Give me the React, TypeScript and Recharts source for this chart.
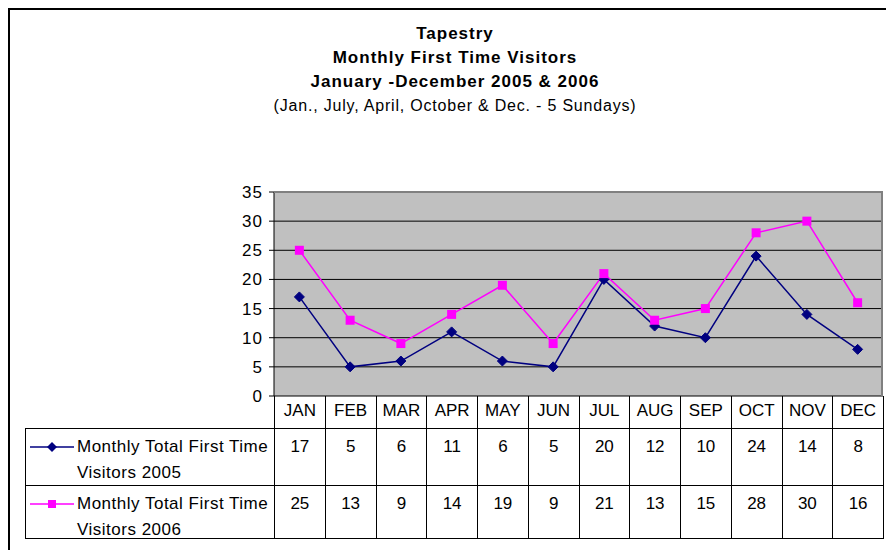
import React from 'react';
import { LineChart, Line, XAxis, YAxis, CartesianGrid } from 'recharts';

const months = ['JAN', 'FEB', 'MAR', 'APR', 'MAY', 'JUN', 'JUL', 'AUG', 'SEP', 'OCT', 'NOV', 'DEC'];
const visitors2005 = [17, 5, 6, 11, 6, 5, 20, 12, 10, 24, 14, 8];
const visitors2006 = [25, 13, 9, 14, 19, 9, 21, 13, 15, 28, 30, 16];
const yTicks = [0, 5, 10, 15, 20, 25, 30, 35];

const seriesNames = ['Monthly Total First Time Visitors 2005', 'Monthly Total First Time Visitors 2006'];
const NAVY = '#000080';
const MAGENTA = '#FF00FF';
const FONT = '"Liberation Sans", Arial, sans-serif';

const data = months.map((m, i) => ({ month: m, v2005: visitors2005[i], v2006: visitors2006[i] }));

// plot box in page coords
const PL = 274;
const PR = 883;
const PT = 192;
const PB = 396;
const colW = (PR - PL) / months.length;

const Diamond = (props: any) => {
  const { cx, cy } = props;
  if (cx == null || cy == null) return null;
  const r = 5;
  return <polygon points={`${cx},${cy - r} ${cx + r},${cy} ${cx},${cy + r} ${cx - r},${cy}`} fill={NAVY} stroke={NAVY} />;
};

const Square = (props: any) => {
  const { cx, cy } = props;
  if (cx == null || cy == null) return null;
  return <rect x={cx - 4.5} y={cy - 4.5} width={9} height={9} fill={MAGENTA} />;
};

const LegendKey = ({ color, square }: { color: string; square?: boolean }) => (
  <svg width={44} height={12} style={{ position: 'absolute', left: 4, top: 12 }}>
    <line x1={0} y1={6} x2={44} y2={6} stroke={color} strokeWidth={1.5} />
    {square ? (
      <rect x={18} y={2} width={8} height={8} fill={color} />
    ) : (
      <polygon points="22,1 27,6 22,11 17,6" fill={color} />
    )}
  </svg>
);

export default function App() {
  const rows = [
    { name: seriesNames[0], values: visitors2005, color: NAVY, square: false, top: 428, h: 57 },
    { name: seriesNames[1], values: visitors2006, color: MAGENTA, square: true, top: 485, h: 53 },
  ];
  const cell: React.CSSProperties = {
    position: 'absolute',
    boxSizing: 'border-box',
    textAlign: 'center',
    fontSize: 17,
    color: '#000',
  };
  return (
    <div style={{ position: 'absolute', left: 0, top: 0, width: 886, height: 550, background: '#fff', fontFamily: FONT, overflow: 'hidden' }}>
      {/* outer frame */}
      <div style={{ position: 'absolute', left: 8, top: 8, width: 900, height: 560, borderLeft: '2px solid #000', borderTop: '2px solid #000' }} />

      {/* titles */}
      <div style={{ position: 'absolute', left: 205, width: 500, top: 22, textAlign: 'center', lineHeight: '24px', color: '#000' }}>
        <div style={{ fontWeight: 'bold', fontSize: 17, letterSpacing: 1 }}>Tapestry</div>
        <div style={{ fontWeight: 'bold', fontSize: 17, letterSpacing: 1 }}>Monthly First Time Visitors</div>
        <div style={{ fontWeight: 'bold', fontSize: 17, letterSpacing: 1 }}>January -December 2005 &amp; 2006</div>
        <div style={{ fontSize: 16, letterSpacing: 0.8 }}>(Jan., July, April, October &amp; Dec. - 5 Sundays)</div>
      </div>

      <div style={{ position: 'absolute', left: 0, top: 0 }}>
        <LineChart
          width={886}
          height={550}
          data={data}
          margin={{ top: PT, left: PL - 60, right: 886 - PR, bottom: 550 - PB }}
        >
          <CartesianGrid vertical={false} stroke="#000" fill="#C0C0C0" fillOpacity={1} />
          <XAxis dataKey="month" hide padding={{ left: colW / 2, right: colW / 2 }} />
          <YAxis
            width={60}
            domain={[0, 35]}
            ticks={yTicks}
            interval={0}
            axisLine={{ stroke: '#000' }}
            tickLine={{ stroke: '#000' }}
            tickSize={5}
            tickMargin={6}
            tick={{ fill: '#000', fontSize: 17, fontFamily: FONT, letterSpacing: 1 }}
          />
          <Line
            dataKey="v2005"
            name={seriesNames[0]}
            stroke={NAVY}
            strokeWidth={1.5}
            dot={<Diamond />}
            isAnimationActive={false}
          />
          <Line
            dataKey="v2006"
            name={seriesNames[1]}
            stroke={MAGENTA}
            strokeWidth={1.5}
            dot={<Square />}
            isAnimationActive={false}
          />
        </LineChart>
      </div>

      {/* plot top/right border */}
      <div style={{ position: 'absolute', left: PL, top: PT - 1, width: PR - PL, height: PB - PT + 1, borderTop: '2px solid #808080', borderRight: '2px solid #808080', boxSizing: 'border-box', pointerEvents: 'none' }} />

      {/* month header row */}
      {months.map((m, i) => (
        <div
          key={m}
          style={{ ...cell, left: PL + i * colW, top: PB, width: colW + 1, height: 33, borderLeft: '1px solid #000', borderRight: '1px solid #000', borderBottom: '1px solid #000', paddingTop: 5 }}
        >
          {m}
        </div>
      ))}

      {/* data rows */}
      {rows.map((r) => (
        <React.Fragment key={r.name}>
          <div style={{ ...cell, textAlign: 'left', left: 25, top: r.top, width: PL - 25 + 1, height: r.h + 1, border: '1px solid #000', paddingLeft: 51, paddingTop: 5, lineHeight: '26px', letterSpacing: 0.5 }}>
            <LegendKey color={r.color} square={r.square} />
            {r.name}
          </div>
          {r.values.map((v, i) => (
            <div
              key={i}
              style={{ ...cell, left: PL + i * colW, top: r.top, width: colW + 1, height: r.h + 1, border: '1px solid #000', paddingTop: 8 }}
            >
              {v}
            </div>
          ))}
        </React.Fragment>
      ))}
    </div>
  );
}
